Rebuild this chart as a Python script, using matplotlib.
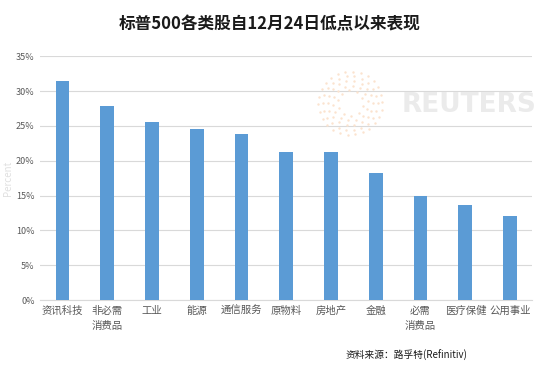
import matplotlib
matplotlib.use("Agg")
import matplotlib.pyplot as plt
import numpy as np

plt.rcParams["font.family"] = ["Noto Sans CJK SC", "DejaVu Sans"]

sectors = ["资讯科技", "非必需\n消费品", "工业", "能源", "通信服务", "原物料",
           "房地产", "金融", "必需\n消费品", "医疗保健", "公用事业"]
gains = [31.5, 27.8, 25.6, 24.6, 23.9, 21.2, 21.2, 18.2, 14.9, 13.6, 12.1]
yticks = [0, 5, 10, 15, 20, 25, 30, 35]

BAR = "#5b9bd5"
GRID = "#d9d9d9"
TICK = "#595959"


def main() -> None:
    fig = plt.figure(figsize=(5.5, 3.67), dpi=100)
    ax = fig.add_axes([0.073, 0.182, 0.895, 0.665])

    x = np.arange(len(sectors))
    ax.bar(x, gains, width=0.31, color=BAR, zorder=3)
    ax.set_xlim(-0.5, len(sectors) - 0.5)
    ax.set_ylim(0, 35)
    ax.set_yticks(yticks)
    ax.set_yticklabels([f"{v}%" for v in yticks], fontsize=6.5, color=TICK)
    ax.set_xticks(x)
    ax.set_xticklabels(sectors, fontsize=7.5, color=TICK, linespacing=1.6)
    ax.tick_params(length=0, pad=4)
    ax.grid(axis="y", color=GRID, linewidth=0.8, zorder=0)
    for side in ["top", "right", "left"]:
        ax.spines[side].set_visible(False)
    ax.spines["bottom"].set_color(GRID)
    ax.set_ylabel("Percent", fontsize=7, color="#e0e0e0", labelpad=2)

    # faint Reuters watermark
    wm = fig.add_axes([0.573, 0.624, 0.128, 0.19])
    wm.set_axis_off()
    wm.set_xlim(-1.1, 1.1)
    wm.set_ylim(-1.1, 1.1)
    for r, n in [(0.4, 10), (0.55, 14), (0.7, 18), (0.85, 22), (1.0, 26)]:
        t = np.linspace(0, 2 * np.pi, n, endpoint=False) + r
        wm.scatter(r * np.cos(t), r * np.sin(t), s=3, color="#fbe3cf", lw=0)
    fig.text(0.73, 0.715, "REUTERS", fontsize=19, color="#ebebeb",
             fontweight="bold", va="center", family="DejaVu Sans")

    fig.text(0.49, 0.935, "标普500各类股自12月24日低点以来表现", fontsize=12,
             fontweight="bold", ha="center", va="center", color="#1a1a1a")
    fig.text(0.85, 0.03, "资料来源：路孚特(Refinitiv)", fontsize=7, ha="right",
             va="center", color="#1a1a1a")

    fig.savefig("out.png", dpi=100, facecolor="white")
    plt.close(fig)


if __name__ == "__main__":
    main()
